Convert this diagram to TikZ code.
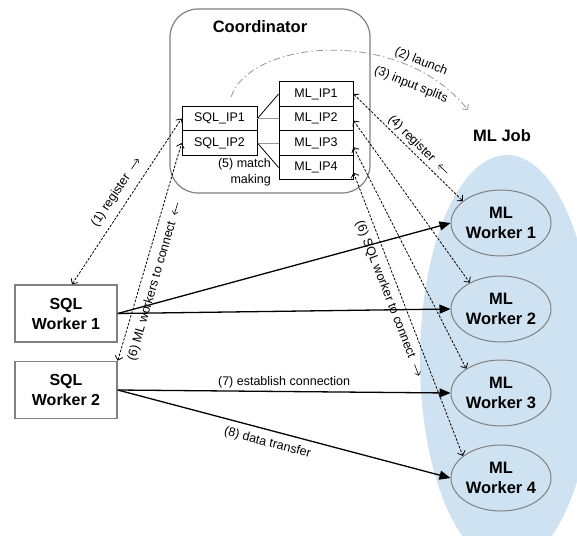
\documentclass[tikz,border=0pt]{standalone}
\usepackage{fontspec}
\setmainfont{Liberation Sans}
\usetikzlibrary{arrows.meta,shapes.geometric,calc}

\definecolor{jobblue}{RGB}{207,226,242}
\definecolor{edgegray}{RGB}{128,128,128}
\definecolor{linkgray}{RGB}{150,150,150}

% small arrows that follow a label's reading direction
\newcommand\fwdarrow{\tikz[baseline=-0.55ex]\draw[line width=0.6pt,-{Straight Barb[length=3pt,width=6pt]}] (0pt,0pt) -- (12pt,0pt);}
\newcommand\backarrow{\tikz[baseline=-0.55ex]\draw[line width=0.6pt,{Straight Barb[length=3pt,width=6pt]}-] (0pt,0pt) -- (12pt,0pt);}

\begin{document}
\begin{tikzpicture}[x=1pt,y=-1pt,
  lbl/.style={font=\fontsize{12.5}{14}\selectfont, inner sep=1.5pt},
  title/.style={font=\fontsize{16.5}{19}\selectfont\bfseries},
  ipbox/.style={draw=black, line width=0.8pt, minimum height=24.5pt, inner sep=0pt,
    font=\fontsize{12.5}{14}\selectfont},
  sqlbox/.style={draw=edgegray, line width=1.5pt, fill=white, minimum width=102pt,
    minimum height=57pt, align=center, inner sep=0pt,
    font=\fontsize{16}{20}\selectfont\bfseries},
  mlnode/.style={ellipse, draw=edgegray, line width=1pt, fill=jobblue, minimum width=100pt,
    minimum height=66pt, inner sep=0pt, align=center,
    font=\fontsize{16.5}{19.5}\selectfont\bfseries},
  link/.style={line width=0.8pt},
  dasharrow/.style={line width=0.8pt, dash pattern=on 2.5pt off 1.5pt,
    {Straight Barb[length=4pt,width=8pt]}-{Straight Barb[length=4pt,width=8pt]}},
  solidarrow/.style={line width=1.3pt, -{Triangle[length=11pt,width=9pt]}},
  launcharrow/.style={line width=0.8pt, draw=linkgray,
    dash pattern=on 7pt off 3pt on 1.5pt off 3pt,
    -{Straight Barb[length=4pt,width=8pt]}}
]
\useasboundingbox (0,0) rectangle (577,535);

% the ML job region
\begin{scope}
  \clip (0,0) rectangle (577,535);
  \fill[jobblue] (507,360) ellipse [x radius=87, y radius=205];
\end{scope}

% coordinator
\node[draw=edgegray, line width=1.2pt, rounded corners=28pt,
      minimum width=200pt, minimum height=184pt] (coord) at (270,101) {};
\node[title] (coordtitle) at (260,27) {Coordinator};
\node[title] (jobtitle) at (502,136) {ML Job};

\node[ipbox, minimum width=75pt] (sip1) at (219.5,118.5) {SQL\_IP1};
\node[ipbox, minimum width=75pt] (sip2) at (219.5,143) {SQL\_IP2};
\node[ipbox, minimum width=74pt] (mip1) at (316,94) {ML\_IP1};
\node[ipbox, minimum width=74pt] (mip2) at (316,118.5) {ML\_IP2};
\node[ipbox, minimum width=74pt] (mip3) at (316,143) {ML\_IP3};
\node[ipbox, minimum width=74pt] (mip4) at (316,167.5) {ML\_IP4};

\node[lbl, align=right, anchor=north east, inner sep=0pt,
      font=\fontsize{12.5}{16}\selectfont] (match) at (271,158) {(5) match\\making};

% workers
\node[sqlbox] (sw1) at (66,313.5) {SQL\\Worker 1};
\node[sqlbox] (sw2) at (66,390) {SQL\\Worker 2};
\node[mlnode] (mw1) at (501,223) {ML\\Worker 1};
\node[mlnode] (mw2) at (501,309) {ML\\Worker 2};
\node[mlnode] (mw3) at (501,393) {ML\\Worker 3};
\node[mlnode] (mw4) at (501,478) {ML\\Worker 4};

% match making links
\draw[link] (sip1.east) -- (mip1.west);
\draw[link, draw=linkgray] (sip1.east) -- (mip2.west);
\draw[link, draw=linkgray] (sip2.east) -- (mip3.west);
\draw[link] (sip2.east) -- (mip4.west);

% launch
\coordinate (launchstart) at (231,97);
\coordinate (launchend) at (468,110);
\draw[launcharrow] (launchstart) .. controls (250,40) and (400,25) .. (launchend);
\node[lbl, rotate=-22] (launchlbl) at (421,62) {(2) launch};
\node[lbl, rotate=-22] (splitlbl) at (411,85) {(3) input splits};

% registration and connection requests
\draw[dasharrow] ([xshift=6pt]sw1.north) --
  node[lbl, sloped, above=6pt, pos=0.51] {(1) register\hspace{7pt}\fwdarrow} (sip1.west);
\draw[dasharrow] (sw2.north east) --
  node[lbl, sloped, below=6pt, pos=0.38] {(6) ML workers to connect\hspace{7pt}\backarrow} (sip2.west);
\draw[dasharrow] (mip1.east) --
  node[lbl, sloped, above=1pt, pos=0.54] {(4) register\hspace{7pt}\backarrow} (mw1.150);
\draw[dasharrow] ([yshift=-2pt]mip2.east) -- (mw2.140);
\draw[dasharrow] ([yshift=-4pt]mip3.east) -- (mw3.145);
\draw[dasharrow] ([yshift=-5pt]mip4.east) --
  node[lbl, sloped, below=5pt, pos=0.43] {(6) SQL worker to connect\hspace{7pt}\fwdarrow} (mw4.150);

% data path
\draw[solidarrow] (sw1.east) -- (mw1.west);
\draw[solidarrow] (sw1.east) -- (mw2.west);
\draw[solidarrow] (sw2.east) -- node[lbl, above=1pt, pos=0.5] {(7) establish connection} (mw3.west);
\draw[solidarrow] (sw2.east) -- node[lbl, sloped, below=5pt, pos=0.46] {(8) data transfer} (mw4.west);
\end{tikzpicture}
\end{document}
